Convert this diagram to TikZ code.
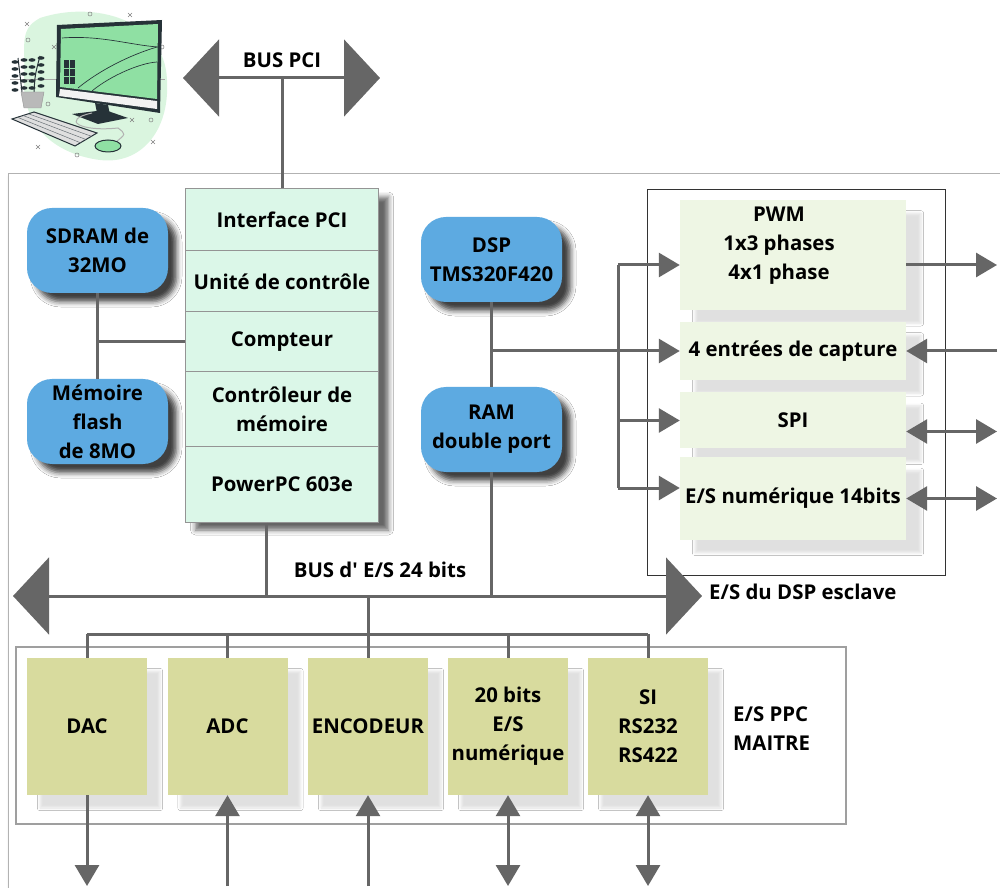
\documentclass[tikz,border=0pt]{standalone}
\usepackage{fontspec}
\setmainfont{Open Sans}
\usetikzlibrary{arrows.meta,shadows.blur}

\definecolor{linegray}{HTML}{666666}
\definecolor{memblue}{HTML}{5DAAE1}
\definecolor{ppcmint}{HTML}{DBF7E8}
\definecolor{dspgreen}{HTML}{EEF6E4}
\definecolor{ioolive}{HTML}{D8DB9E}
\definecolor{leafgreen}{HTML}{8FE0A3}
\definecolor{blobgreen}{HTML}{DAF5DF}
\definecolor{inkdark}{HTML}{263238}

\begin{document}
\begin{tikzpicture}[x=0.3mm, y=-0.3mm,
    every node/.style={font=\fontsize{17.4}{24.7}\selectfont\bfseries, align=center, inner sep=0pt},
    boxsize/.style 2 args={minimum width=#1*0.3mm, minimum height=#2*0.3mm},
    mem/.style={fill=memblue, rounded corners=7.5mm, boxsize={141}{85},
        blur shadow={shadow xshift=2.6mm, shadow yshift=-2.6mm, shadow blur radius=1.6mm, shadow opacity=75}},
    cell/.style={fill=ppcmint, draw=linegray!70, line width=0.3mm, boxsize={193}{#1}},
    slave/.style={fill=dspgreen, boxsize={226}{#1},
        blur shadow={shadow xshift=4.5mm, shadow yshift=-4mm, shadow blur radius=0.8mm, shadow opacity=12}},
    io/.style={fill=ioolive, boxsize={120}{137},
        blur shadow={shadow xshift=3.9mm, shadow yshift=-3.9mm, shadow blur radius=0.8mm, shadow opacity=12}},
    wire/.style={draw=linegray, line width=0.9mm},
    arr/.style={wire, arrows={-Triangle[length=6.3mm, width=7.2mm]}},
    duo/.style={wire, arrows={Triangle[length=6.3mm, width=7.2mm]-Triangle[length=6.3mm, width=7.2mm]}},
    bus/.style={wire, arrows={Triangle[length=10.8mm, width=23mm]-Triangle[length=10.8mm, width=23mm]}},
  ]
    \clip (0,0) rectangle (1000,888);

    % main board
    \filldraw[fill=white, draw=gray!60, line width=0.3mm,
        blur shadow={shadow xshift=0.6mm, shadow yshift=-0.9mm, shadow blur radius=1mm, shadow opacity=25}]
        (8,174) rectangle (1020,910);

    % host PC
    \fill[blobgreen] (40,18) .. controls (95,0) and (165,20) .. (167,80)
        .. controls (170,132) and (140,165) .. (100,160)
        .. controls (60,155) and (22,130) .. (24,80)
        .. controls (26,45) and (18,30) .. (40,18);
    \draw[gray!70, line width=0.15mm] (10,79) -- (165,79);
    \foreach \p in {(27,24),(130,15),(54,47),(153,142),(38,147),(132,120)}
        \draw[gray, line width=0.15mm] \p +(-2,-2) -- +(2,2) \p +(-2,2) -- +(2,-2);
    \foreach \p in {(90,14),(28,40),(162,47),(48,104),(151,120),(77,155)}
        \draw[gray, line width=0.15mm] \p circle (2);
    \draw[inkdark, line width=0.3mm] (22,92) .. controls (20,75) .. (18,58);
    \draw[inkdark, line width=0.3mm] (34,92) .. controls (35,75) .. (40,56);
    \foreach \t in {0,...,4} {
        \fill[inkdark] (15,62+7*\t) ellipse (3.5 and 1.8);
        \fill[inkdark] (24,60+7*\t) ellipse (3.5 and 1.8);
        \fill[inkdark] (32,60+7*\t) ellipse (3.5 and 1.8);
        \fill[inkdark] (41,58+7*\t) ellipse (3.5 and 1.8);
    }
    \filldraw[fill=gray!55, draw=gray!80] (21,92) -- (44,92) -- (41,108) -- (24,108) -- cycle; % pot
    \fill[inkdark] (57,25) -- (162,20) -- (160,113) -- (56,97) -- cycle; % monitor
    \fill[leafgreen] (61,29) -- (158,24) -- (157,99) -- (60,87) -- cycle;
    \fill[gray!10] (60,89) -- (157,101) -- (157,109) -- (59,96) -- cycle;
    \draw[inkdark, line width=0.2mm] (62,38) .. controls (100,35) and (130,45) .. (158,47);
    \draw[inkdark, line width=0.2mm] (78,88) .. controls (100,70) and (130,55) .. (157,47);
    \draw[inkdark, line width=0.2mm] (92,91) .. controls (110,76) and (140,63) .. (157,62);
    \fill[inkdark] (64,60) rectangle (75,84);
    \draw[leafgreen, line width=0.15mm] (64,68) -- (75,68) (64,76) -- (75,76) (69.5,60) -- (69.5,84);
    \fill[inkdark] (95,103) -- (108,105) -- (110,115) -- (97,113) -- cycle; % stand
    \fill[inkdark] (72,114) -- (105,110) -- (128,118) -- (98,124) -- cycle;
    \draw[gray!60, line width=0.3mm] (92,113) .. controls (60,120) and (80,132) .. (118,128)
        .. controls (126,134) .. (116,142);
    \filldraw[fill=gray!25, draw=inkdark, line width=0.3mm] (12,119) -- (34,112) -- (97,133) -- (75,146) -- cycle; % keyboard
    \draw[inkdark!70, line width=0.15mm] (17.5,117.3) -- (80.5,142.8) (23,115.5) -- (86,139.5) (28.5,113.8) -- (91.5,136.3);
    \filldraw[fill=leafgreen, draw=inkdark, line width=0.3mm] (108,146) ellipse (13 and 6); % mouse

    % PowerPC stack
    \node[fill=ppcmint, boxsize={193}{333},
        blur shadow={shadow xshift=3mm, shadow yshift=-2.4mm, shadow blur radius=1.5mm, shadow opacity=60}]
        (ppc) at (282,355.5) {};
    \node[cell=62] (pci) at (282,220) {Interface PCI};
    \node[cell=61] (ctrl) at (282,281.5) {Unité de contrôle};
    \node[cell=60] (cnt) at (282,342) {Compteur};
    \node[cell=75] (mctl) at (282,409.5) {Contrôleur de\\mémoire};
    \node[cell=75] (cpu) at (282,484.5) {PowerPC 603e};

    % memories and DSP
    \node[mem] (sdram) at (97.5,250.5) {SDRAM de\\32MO};
    \node[mem] (flash) at (97.5,421.5) {Mémoire\\flash\\de 8MO};
    \node[mem] (dsp) at (491.5,259.5) {DSP\\TMS320F420};
    \node[mem] (ram) at (491.5,429.5) {RAM\\double port};

    % PCI bus
    \coordinate (pciL) at (183,78);
    \coordinate (pciR) at (380,78);
    \draw[bus] (pciL) -- (pciR);
    \node (pcilbl) at (282,60) {BUS PCI};
    \draw[wire] (pci.north) -- (pci.north |- pciL);

    \draw[wire] (sdram) -- (flash);
    \draw[wire] (cnt.west) -- (cnt.west -| sdram);

    % slave DSP I/O
    \draw[black!80, line width=0.3mm] (647,190) rectangle (945,575);
    \node[slave=110] (pwm) at (793,255) {};
    \node (pwmtxt) at (779,246) {PWM\\1x3 phases\\4x1 phase};
    \node[slave=58] (cap) at (793,351) {4 entrées de capture};
    \node[slave=56] (spi) at (793,420.5) {SPI};
    \node[slave=82] (esn) at (793,498.5) {E/S numérique 14bits};

    \coordinate (fd) at (618,265);
    \coordinate (fe) at (618,488);
    \coordinate (rim) at (997,0);
    \draw[wire] (dsp) -- (ram);
    \draw[arr] (dsp |- cap) -- (cap.west);
    \draw[wire] (fd) -- (fe);
    \draw[arr] (fd) -- (pwm.west |- fd);
    \draw[arr] (fd |- spi) -- (spi.west);
    \draw[arr] (fe) -- (esn.west |- fe);
    \draw[arr] (pwm.east |- fd) -- (rim |- fd);
    \draw[arr] (rim |- cap) -- (cap.east);
    \draw[duo] ([yshift=-3.3mm]spi.east) -- ([yshift=-3.3mm]spi.east -| rim);
    \draw[duo] (esn.east) -- (esn.east -| rim);

    % I/O bus
    \coordinate (bL) at (13,596);
    \coordinate (bR) at (702,596);
    \coordinate (j1) at (266,596);
    \coordinate (comb) at (368,634);
    \coordinate (floor) at (0,886);
    \draw[bus] (bL) -- (bR);
    \node (buslbl) at (380,570) {BUS d\textquotesingle{} E/S 24 bits};
    \node[anchor=west] (dsplbl) at (709,592) {E/S du DSP esclave};
    \draw[wire] (j1 |- cpu.south) -- (j1);
    \draw[wire] (ram) -- (ram |- bL);

    % master PPC I/O
    \draw[gray!75, line width=0.45mm] (16,647) rectangle (846,824);
    \node[io] (dac) at (87,726.5) {DAC};
    \node[io] (adc) at (227.5,726.5) {ADC};
    \node[io] (enc) at (368,726.5) {ENCODEUR};
    \node[io] (dio) at (508,726.5) {20 bits\\E/S\\numérique};
    \node[io] (si) at (648,726.5) {SI\\RS232\\RS422};
    \node[anchor=west, align=left] (ppclbl) at (733,729) {E/S PPC\\MAITRE};

    \draw[wire] (comb |- bL) -- (comb);
    \draw[wire] (dac.north |- comb) -- (si.north |- comb);
    \foreach \n in {dac,adc,enc,dio,si}
        \draw[wire] (\n.north |- comb) -- (\n.north);

    \draw[arr] (dac) -- (dac |- floor);
    \draw[arr] (adc |- floor) -- (adc);
    \draw[arr] (enc |- floor) -- (enc);
    \draw[duo] (dio) -- (dio |- floor);
    \draw[duo] (si) -- (si |- floor);
\end{tikzpicture}
\end{document}
